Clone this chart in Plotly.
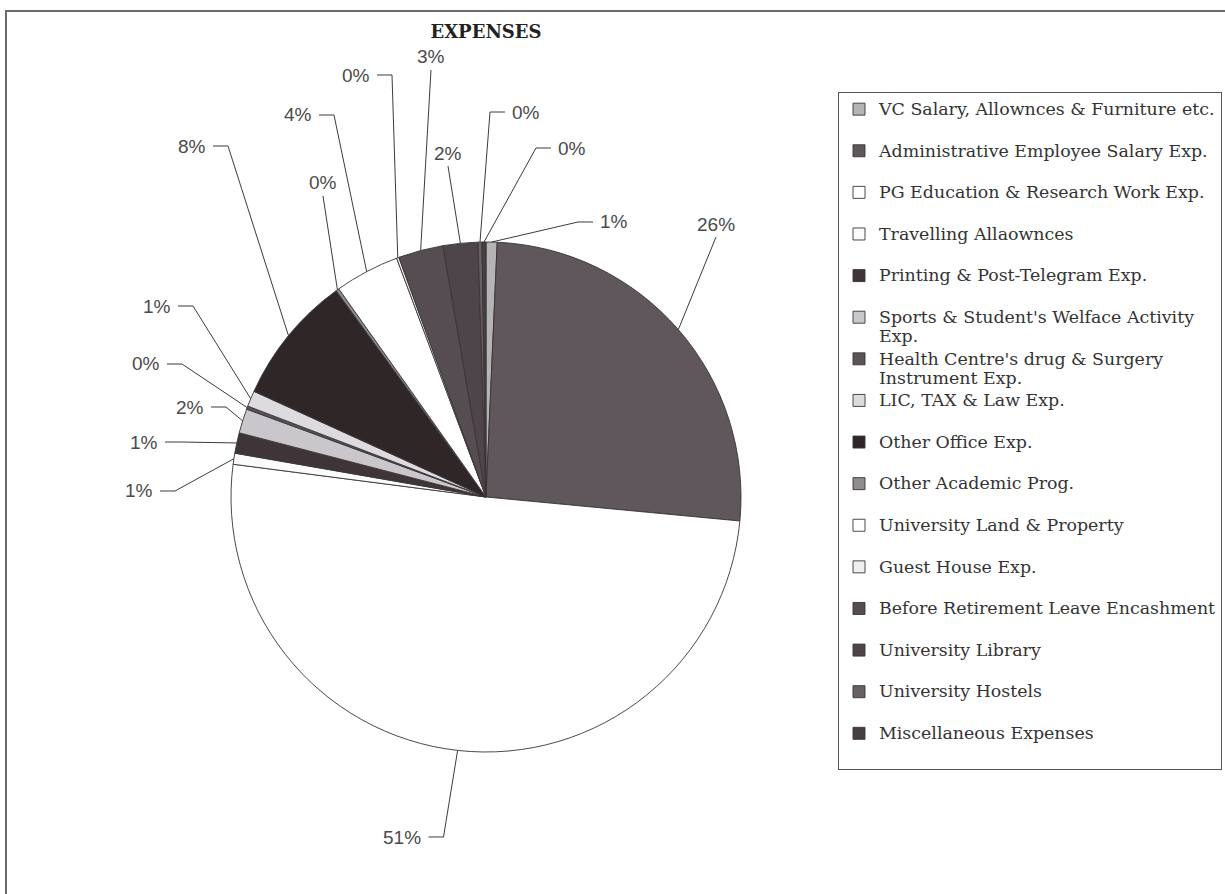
import math
import textwrap
import plotly.graph_objects as go

# ---------------- data ----------------
categories = [
    "VC Salary, Allownces & Furniture etc.",
    "Administrative Employee Salary Exp.",
    "PG Education & Research Work Exp.",
    "Travelling Allaownces",
    "Printing & Post-Telegram Exp.",
    "Sports & Student's Welface Activity Exp.",
    "Health Centre's drug & Surgery Instrument Exp.",
    "LIC, TAX & Law Exp.",
    "Other Office Exp.",
    "Other Academic Prog.",
    "University Land & Property",
    "Guest House Exp.",
    "Before Retirement Leave Encashment",
    "University Library",
    "University Hostels",
    "Miscellaneous Expenses",
]
values = [0.7, 25.8, 50.55, 0.7, 1.3, 1.55, 0.2, 1.0, 8.2, 0.2, 4.1, 0.15, 2.85, 2.2, 0.25, 0.25]

# ---------------- styling ----------------
slice_colors = ["#b4b3b6", "#5f575b", "#ffffff", "#fbfbfb", "#3f3539", "#c9c7cc",
                "#5b5357", "#dddbe0", "#2f2628", "#8f8b8f", "#ffffff", "#efefef",
                "#554d51", "#4d4549", "#676064", "#463e42"]

W, H = 1225, 894
CX, CY, R = 486, 497, 255

# label placement (pixel centre, side where the leader line leaves the label)
label_pos = [(614, 222, "L"), (716, 224, "B"), (402, 837, "R"), (139, 491, "R"),
             (144, 442, "R"), (190, 407, "R"), (146, 364, "R"), (157, 306, "R"),
             (192, 146, "R"), (323, 183, "B"), (298, 115, "R"), (356, 75, "R"),
             (431, 57, "B"), (448, 153, "B"), (526, 112, "L"), (572, 148, "L")]


def px(x):
    return x / W


def py(y):
    return 1 - y / H


# legend labels: wrap long names, pad single-line names to two lines
legend_labels = []
for name in categories:
    lines = textwrap.wrap(name, width=37)
    if len(lines) == 1:
        lines.append("\u00a0")
    legend_labels.append("<br>".join(f'<span style="font-size:17.4px">{ln}</span>' for ln in lines))

fig = go.Figure()
fig.add_trace(go.Pie(
    labels=legend_labels,
    values=values,
    sort=False,
    direction="clockwise",
    rotation=0,
    textinfo="none",
    hoverinfo="percent",
    marker=dict(colors=slice_colors, line=dict(color="#3a3436", width=0.9)),
    domain=dict(x=[px(CX - R), px(CX + R)], y=[py(CY + R), py(CY - R)]),
))

# percentage labels with leader lines computed from the slice angles
total = sum(values)
cum = 0.0
shapes = []
annotations = []
for v, (lx, ly, side) in zip(values, label_pos):
    mid = (cum + v / 2) / total * 2 * math.pi
    cum += v
    ax = CX + R * math.sin(mid)
    ay = CY - R * math.cos(mid)
    pct = int(v / total * 100 + 0.5)
    txt = f"{pct}%"
    hw = 7 + 5.5 * len(txt)
    if side == "R":
        sx = lx + hw + 3
        pts = [(sx, ly), (sx + 15, ly), (ax, ay)]
    elif side == "L":
        sx = lx - hw - 3
        pts = [(sx, ly), (sx - 15, ly), (ax, ay)]
    else:
        pts = [(lx, ly + 13), (ax, ay)]
    path = "M " + " L ".join(f"{px(x):.5f},{py(y):.5f}" for x, y in pts)
    shapes.append(dict(type="path", xref="paper", yref="paper", path=path,
                       line=dict(color="#3c3c3c", width=1)))
    annotations.append(dict(x=px(lx), y=py(ly), xref="paper", yref="paper",
                            text=txt, showarrow=False, xanchor="center", yanchor="middle",
                            font=dict(family="Liberation Sans, Arial, sans-serif", size=19,
                                      color="#4a4a4a")))

# outer chart border (runs off the right and bottom edges like the scan)
shapes.append(dict(type="rect", xref="paper", yref="paper",
                   x0=px(6), x1=px(W + 20), y0=py(H + 20), y1=py(11),
                   line=dict(color="#6a6a6a", width=2), layer="below"))

fig.update_layout(
    width=W, height=H,
    margin=dict(l=0, r=0, t=0, b=0, pad=0, autoexpand=False),
    paper_bgcolor="white", plot_bgcolor="white",
    title=dict(text="<b>EXPENSES</b>", x=px(486), xanchor="center",
               y=py(32), yanchor="middle", xref="paper", yref="container",
               font=dict(family="DejaVu Serif, serif", size=18, color="#222")),
    showlegend=True,
    legend=dict(x=px(838), y=py(92), xanchor="left", yanchor="top",
                bgcolor="white", bordercolor="#555555", borderwidth=1,
                valign="top", traceorder="normal",
                font=dict(family="DejaVu Serif, serif", size=14.85, color="#333333")),
    shapes=shapes,
    annotations=annotations,
)

fig.write_html("out.html", config={"displayModeBar": False},
               post_script="document.body.style.margin='0';document.body.style.overflow='hidden';")
